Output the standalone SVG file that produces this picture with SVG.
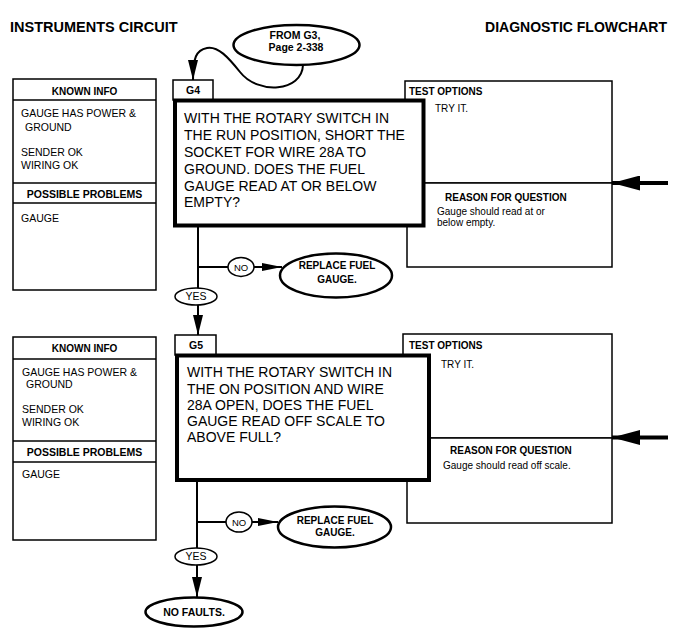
<svg xmlns="http://www.w3.org/2000/svg" width="677" height="636" viewBox="0 0 677 636">
<style>
.t{font-family:"Liberation Sans",Arial,Helvetica,sans-serif;fill:#000}
.b{font-weight:bold}
.f10{font-size:10px}
.f105{font-size:10.5px}
.q{font-size:14px}
.c{text-anchor:middle}
.box{fill:#fff;stroke:#000;stroke-width:1.5}
.main{fill:#fff;stroke:#000;stroke-width:4}
.ell{fill:#fff;stroke:#000;stroke-width:2.5}
.sm{fill:#fff;stroke:#000;stroke-width:1.5}
.ln{fill:none;stroke:#000;stroke-width:2}
.thin{fill:none;stroke:#000;stroke-width:1.5}
</style>
<defs>
<marker id="ah" viewBox="0 0 20 10" markerUnits="userSpaceOnUse" markerWidth="20" markerHeight="10" refX="20" refY="5" orient="auto">
<path d="M0,0 L20,5 L0,10 z" fill="#000"/>
</marker>
<marker id="ahs" viewBox="0 0 20 8" markerUnits="userSpaceOnUse" markerWidth="20" markerHeight="8" refX="20" refY="4" orient="auto">
<path d="M0,0 L20,4 L0,8 z" fill="#000"/>
</marker>
<marker id="big" viewBox="0 0 28 15" markerUnits="userSpaceOnUse" markerWidth="28" markerHeight="15" refX="28" refY="7.5" orient="auto">
<path d="M0,0 L28,7.5 L0,15 z" fill="#000"/>
</marker>
</defs>
<rect width="677" height="636" fill="#fff"/>

<g id="titles">
<text class="t b" x="10" y="31.5" font-size="14.5px">INSTRUMENTS CIRCUIT</text>
<text class="t b" x="667" y="31.5" font-size="14px" text-anchor="end">DIAGNOSTIC FLOWCHART</text>
</g>

<g id="from-g3">
<ellipse class="ell" cx="296.5" cy="45" rx="63" ry="20"/>
<text class="t b f105 c" x="295" y="38.5">FROM G3,</text>
<text class="t b f105 c" x="296" y="50.5">Page 2-338</text>
</g>

<!-- Block G4 -->
<g id="known-g4">
<rect class="box" x="13" y="79" width="143" height="211"/>
<line class="thin" x1="13" y1="100" x2="156" y2="100"/>
<line class="thin" x1="13" y1="183" x2="156" y2="183"/>
<line class="thin" x1="13" y1="203" x2="156" y2="203"/>
<text class="t b f10 c" x="84.5" y="95.3">KNOWN INFO</text>
<text class="t f105" x="21" y="117">GAUGE HAS POWER &amp;</text>
<text class="t f105" x="25" y="131">GROUND</text>
<text class="t f105" x="21" y="156">SENDER OK</text>
<text class="t f105" x="21" y="169">WIRING OK</text>
<text class="t b f105 c" x="84.5" y="197.7">POSSIBLE PROBLEMS</text>
<text class="t f105" x="21" y="222">GAUGE</text>
</g>

<g id="options-g4">
<rect class="box" x="405" y="81" width="207" height="102"/>
<rect class="box" x="407" y="183" width="205" height="84"/>
<text class="t b f10" x="409" y="94.5">TEST OPTIONS</text>
<text class="t f10" x="435" y="112">TRY IT.</text>
<text class="t b f10" x="445" y="200.5">REASON FOR QUESTION</text>
<text class="t f10" x="437" y="215">Gauge should read at or</text>
<text class="t f10" x="437" y="226">below empty.</text>
</g>

<g id="label-g4">
<rect class="box" x="173" y="80" width="40" height="20"/>
<text class="t b f105 c" x="193" y="94">G4</text>
</g>

<g id="question-g4">
<rect class="main" x="175" y="100.5" width="248.5" height="125"/>
<text class="t q" x="184" y="122.7">WITH THE ROTARY SWITCH IN</text>
<text class="t q" x="184" y="140">THE RUN POSITION, SHORT THE</text>
<text class="t q" x="184" y="157.3">SOCKET FOR WIRE 28A TO</text>
<text class="t q" x="184" y="174">GROUND. DOES THE FUEL</text>
<text class="t q" x="184" y="190.7">GAUGE READ AT OR BELOW</text>
<text class="t q" x="184" y="207.3">EMPTY?</text>
</g>

<!-- Block G5 -->
<g id="known-g5">
<rect class="box" x="13" y="337" width="143" height="203"/>
<line class="thin" x1="13" y1="359" x2="156" y2="359"/>
<line class="thin" x1="13" y1="441" x2="156" y2="441"/>
<line class="thin" x1="13" y1="462" x2="156" y2="462"/>
<text class="t b f10 c" x="84.5" y="351.5">KNOWN INFO</text>
<text class="t f105" x="22" y="376">GAUGE HAS POWER &amp;</text>
<text class="t f105" x="26" y="388">GROUND</text>
<text class="t f105" x="22" y="413">SENDER OK</text>
<text class="t f105" x="22" y="426">WIRING OK</text>
<text class="t b f105 c" x="84.5" y="455.5">POSSIBLE PROBLEMS</text>
<text class="t f105" x="22" y="478">GAUGE</text>
</g>

<g id="options-g5">
<rect class="box" x="403" y="334" width="209" height="104"/>
<rect class="box" x="407" y="438" width="205" height="85"/>
<text class="t b f10" x="409" y="349">TEST OPTIONS</text>
<text class="t f10" x="441" y="368">TRY IT.</text>
<text class="t b f10" x="450" y="454">REASON FOR QUESTION</text>
<text class="t f10" x="443" y="469">Gauge should read off scale.</text>
</g>

<g id="label-g5">
<rect class="box" x="175" y="335" width="41" height="20"/>
<text class="t b f105 c" x="196" y="348.5">G5</text>
</g>

<g id="question-g5">
<rect class="main" x="177" y="355.5" width="252" height="124.5"/>
<text class="t q" x="187" y="377.3">WITH THE ROTARY SWITCH IN</text>
<text class="t q" x="187" y="393.7">THE ON POSITION AND WIRE</text>
<text class="t q" x="187" y="409.7">28A OPEN, DOES THE FUEL</text>
<text class="t q" x="187" y="426.3">GAUGE READ OFF SCALE TO</text>
<text class="t q" x="187" y="441.7">ABOVE FULL?</text>
</g>

<g id="connectors">
<path class="ln" d="M303,65 C302,92 258,95 240,72 C228,57 218,46 207,48 C196,50 193,58 193,80" marker-end="url(#ah)"/>
<path class="ln" d="M198,227 V288"/>
<path class="ln" d="M198,267 H228"/>
<path class="ln" d="M254,267 H282" marker-end="url(#ahs)"/>
<path class="ln" d="M198,305 V335" marker-end="url(#ah)"/>
<path d="M668,183 H612" fill="none" stroke="#000" stroke-width="4" marker-end="url(#big)"/>
<path class="ln" d="M197,482 V548"/>
<path class="ln" d="M197,522 H226"/>
<path class="ln" d="M252,522 H278" marker-end="url(#ahs)"/>
<path class="ln" d="M197,565 V597" marker-end="url(#ah)"/>
<path d="M668,437.5 H612" fill="none" stroke="#000" stroke-width="4" marker-end="url(#big)"/>
</g>

<g id="no-g4">
<ellipse class="sm" cx="241" cy="267" rx="13" ry="9.5"/>
<text class="t c" x="241" y="270.5" font-size="9.5px">NO</text>
</g>
<g id="yes-g4">
<ellipse class="sm" cx="196" cy="296.5" rx="21" ry="8.5"/>
<text class="t c" x="196" y="300.3" font-size="10.5px">YES</text>
</g>
<g id="replace-g4">
<ellipse class="ell" cx="336" cy="275.5" rx="56" ry="22"/>
<text class="t b f10 c" x="337" y="268.5">REPLACE FUEL</text>
<text class="t b f10 c" x="337" y="283">GAUGE.</text>
</g>

<g id="no-g5">
<ellipse class="sm" cx="239" cy="522" rx="13" ry="10"/>
<text class="t c" x="239" y="525.5" font-size="9.5px">NO</text>
</g>
<g id="yes-g5">
<ellipse class="sm" cx="196" cy="556.5" rx="21" ry="8.5"/>
<text class="t c" x="196" y="560.3" font-size="10.5px">YES</text>
</g>
<g id="replace-g5">
<ellipse class="ell" cx="334.5" cy="527" rx="56.5" ry="20.5"/>
<text class="t b f10 c" x="335" y="523.5">REPLACE FUEL</text>
<text class="t b f10 c" x="335" y="536">GAUGE.</text>
</g>
<g id="no-faults">
<ellipse class="ell" cx="194" cy="612" rx="48.5" ry="14.5"/>
<text class="t b f105 c" x="194" y="616">NO FAULTS.</text>
</g>
</svg>
